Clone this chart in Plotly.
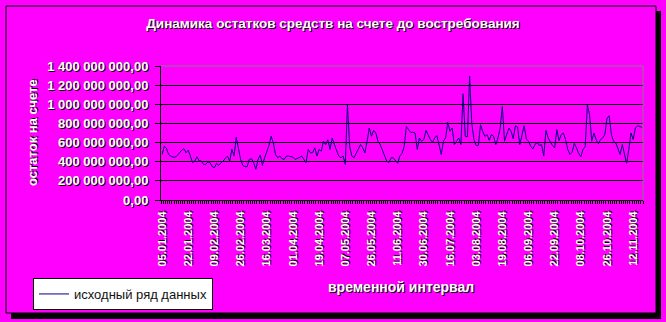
import pandas as pd
import plotly.graph_objects as go

# ---- data -----------------------------------------------------------------
title_text = "Динамика остатков средств на счете до востребования"
y_title = "остаток на счете"
x_title = "временной интервал"
series_name = "исходный ряд данных"

# Russian non-working days of 2004 (business-day calendar of the category axis)
holidays = ["2004-01-01", "2004-01-02", "2004-01-07", "2004-02-23", "2004-03-08",
            "2004-05-03", "2004-05-04", "2004-05-10", "2004-06-14", "2004-11-08"]

# balances, millions of roubles
balances_mln = [
    476, 562, 540, 476, 459, 448, 448, 465, 493, 521,
    535, 493, 521, 459, 390, 407, 452, 407, 407, 372,
    372, 397, 390, 348, 338, 383, 362, 390, 407, 435,
    459, 407, 530, 460, 655, 540, 424, 362, 348, 348,
    424, 431, 390, 320, 424, 469, 362, 441, 510, 569,
    666, 597, 476, 441, 459, 431, 424, 459, 459, 452,
    448, 424, 431, 445, 459, 424, 390, 528, 493, 493,
    545, 459, 528, 510, 614, 579, 631, 528, 648, 579,
    510, 459, 441, 460, 372, 1000, 560, 459, 441, 493,
    535, 579, 545, 493, 614, 752, 666, 728, 700, 614,
    579, 528, 476, 407, 390, 441, 441, 407, 383, 459,
    486, 560, 769, 735, 707, 707, 700, 528, 648, 614,
    631, 728, 683, 631, 604, 648, 673, 560, 476, 614,
    650, 810, 717, 752, 579, 614, 648, 579, 1110, 666,
    660, 1293, 800, 631, 569, 569, 786, 717, 666, 683,
    624, 683, 666, 579, 648, 750, 976, 614, 683, 752,
    717, 641, 776, 762, 579, 666, 776, 640, 614, 562,
    535, 579, 604, 569, 579, 459, 728, 648, 604, 569,
    545, 735, 620, 683, 700, 631, 528, 476, 500, 590,
    545, 486, 452, 528, 560, 993, 890, 614, 700, 631,
    590, 631, 648, 683, 855, 880, 683, 614, 597, 545,
    476, 579, 470, 383, 528, 700, 631, 752, 776, 765,
    760,
]

tick_labels = ["05.01.2004", "22.01.2004", "09.02.2004", "26.02.2004", "16.03.2004",
               "01.04.2004", "19.04.2004", "07.05.2004", "26.05.2004", "11.06.2004",
               "30.06.2004", "16.07.2004", "03.08.2004", "19.08.2004", "06.09.2004",
               "22.09.2004", "08.10.2004", "26.10.2004", "12.11.2004"]

y_max = 1.4e9
y_step = 2e8

# ---- derived ----------------------------------------------------------------
days = pd.bdate_range("2004-01-05", "2004-12-31", freq="C", holidays=holidays)
dates = [d.strftime("%d.%m.%Y") for d in days[:len(balances_mln)]]
values = [v * 1e6 for v in balances_mln]
xs = list(range(len(values)))
tickvals = [dates.index(t) for t in tick_labels]

W, H = 666, 322
L, R, T, B = 161, 643, 66, 200  # plot area in pixels


def px(x):
    return (x - L) / (R - L)


def py(y):
    return (B - y) / (B - T)


MAGENTA = "#FF00FF"
SHADOW = "1px 1px 0px #000000"
FONT = "Liberation Sans"

fig = go.Figure()
fig.add_trace(go.Scatter(
    x=xs, y=values, mode="lines", name=series_name,
    line=dict(color="#000080", width=1),
    customdata=dates, hovertemplate="%{customdata}: %{y}<extra></extra>",
))

shapes = [
    # chart-area shadow
    dict(type="rect", xref="paper", yref="paper", layer="below",
         x0=px(11), x1=px(661), y0=py(319), y1=py(11),
         fillcolor="black", line=dict(width=0)),
    # chart-area
    dict(type="rect", xref="paper", yref="paper", layer="below",
         x0=px(6), x1=px(656), y0=py(313), y1=py(6),
         fillcolor=MAGENTA, line=dict(color="black", width=1)),
    # plot-area border (top and right, grey)
    dict(type="line", xref="paper", yref="paper", layer="above",
         x0=0, x1=1, y0=1, y1=1, line=dict(color="#808080", width=1)),
    dict(type="line", xref="paper", yref="paper", layer="above",
         x0=1, x1=1, y0=0, y1=1, line=dict(color="#808080", width=1)),
]

annotations = [
    dict(text=y_title, xref="paper", yref="paper", x=px(32), y=py(133),
         textangle=-90, showarrow=False, xanchor="center", yanchor="middle",
         font=dict(family=FONT, size=13, weight="bold", color="white", shadow=SHADOW)),
    dict(text=x_title, xref="paper", yref="paper", x=px(401), y=py(287),
         showarrow=False, xanchor="center", yanchor="middle",
         font=dict(family=FONT, size=14, weight="bold", color="white", shadow=SHADOW)),
]

fig.update_layout(
    width=W, height=H,
    margin=dict(l=L, r=W - R, t=T, b=H - B, autoexpand=False),
    paper_bgcolor=MAGENTA, plot_bgcolor=MAGENTA,
    separators=", ",
    title=dict(text=title_text, x=333 / W, xref="container", xanchor="center",
               y=1 - 23 / H, yref="container", yanchor="middle",
               font=dict(family=FONT, size=13.5, weight="bold", color="white", shadow=SHADOW)),
    xaxis=dict(
        range=[-0.5, len(values) - 0.5],
        tickmode="array", tickvals=tickvals, ticktext=tick_labels,
        tickangle=-90, ticks="", showgrid=False, zeroline=False,
        showline=True, linecolor="black", linewidth=1,
        ticklabelstandoff=6,
        tickfont=dict(family=FONT, size=11, weight="bold", color="white", shadow=SHADOW),
        minor=dict(ticks="outside", ticklen=3, tickcolor="black", tickwidth=1,
                   tick0=-0.5, dtick=1, showgrid=False),
    ),
    yaxis=dict(
        range=[0, y_max], dtick=y_step, tick0=0, tickformat=",.2f",
        ticks="outside", ticklen=5, tickcolor="black",
        showgrid=True, gridcolor="black", gridwidth=1, zeroline=False,
        showline=True, linecolor="black", linewidth=1,
        ticklabelstandoff=4,
        tickfont=dict(family=FONT, size=13, weight="bold", color="white", shadow=SHADOW),
    ),
    legend=dict(x=px(33), y=py(278), xanchor="left", yanchor="top",
                bgcolor="white", bordercolor="black", borderwidth=1,
                font=dict(family=FONT, size=13, color="#111111"),
                itemwidth=30),
    showlegend=True,
    shapes=shapes,
    annotations=annotations,
)

fig.write_html("out.html")
